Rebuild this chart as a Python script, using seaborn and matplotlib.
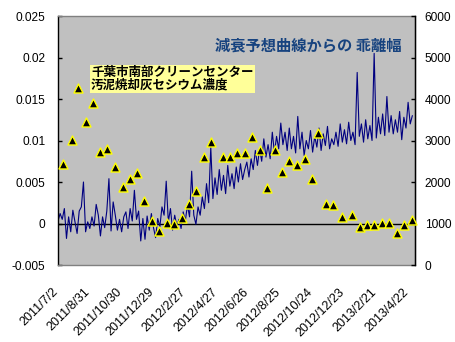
import numpy as np
import pandas as pd
import matplotlib
matplotlib.use("Agg")
import matplotlib.pyplot as plt
import matplotlib.ticker as mticker
import matplotlib.transforms as mtransforms
import seaborn as sns

# ---------------- data ----------------
line_start = "2011-07-02"
line_step = "4D"
# deviation from predicted decay curve (left axis), sampled every 4 days
deviation = [
    0.0003, 0.0012, 0.0005, 0.0018, -0.0018, 0.0008, -0.0010, 0.0016, 0.0002, -0.0012,
    0.0015, 0.0020, 0.0050, -0.0010, 0.0002, -0.0006, 0.0008, -0.0003, 0.0023, 0.0010,
    -0.0015, 0.0008, -0.0005, 0.0015, 0.0054, -0.0009, 0.0026, 0.0010, -0.0008, 0.0005,
    -0.0010, 0.0008, 0.0014, -0.0006, 0.0018, 0.0003, 0.0040, 0.0005, 0.0015, -0.0021,
    0.0006, -0.0019, 0.0009, -0.0008, 0.0012, -0.0005, -0.0017, 0.0006, -0.0004, 0.0020,
    0.0010, 0.0051, 0.0002, 0.0018, -0.0008, 0.0010, -0.0003, 0.0005, -0.0006, 0.0014,
    0.0003, 0.0022, 0.0008, 0.0063, 0.0010, -0.0001, 0.0020, 0.0010, 0.0032, 0.0018,
    0.0048, 0.0025, 0.0092, 0.0030, 0.0055, 0.0035, 0.0065, 0.0040, 0.0058, 0.0036,
    0.0070, 0.0045, 0.0060, 0.0042, 0.0068, 0.0050, 0.0072, 0.0053, 0.0065, 0.0074,
    0.0056, 0.0078, 0.0065, 0.0088, 0.0070, 0.0090, 0.0075, 0.0102, 0.0080, 0.0095,
    0.0078, 0.0110, 0.0085, 0.0105, 0.0090, 0.0121, 0.0095, 0.0110, 0.0088, 0.0115,
    0.0090, 0.0105, 0.0085, 0.0129, 0.0090, 0.0110, 0.0082, 0.0100, 0.0090, 0.0112,
    0.0086, 0.0105, 0.0092, 0.0115, 0.0088, 0.0108, 0.0094, 0.0117, 0.0090, 0.0102,
    0.0095, 0.0110, 0.0093, 0.0120, 0.0098, 0.0113, 0.0096, 0.0122, 0.0100, 0.0110,
    0.0095, 0.0182, 0.0105, 0.0120, 0.0098, 0.0125, 0.0102, 0.0118, 0.0100, 0.0205,
    0.0103, 0.0128, 0.0108, 0.0132, 0.0106, 0.0153, 0.0110, 0.0130, 0.0108, 0.0125,
    0.0110, 0.0135, 0.0101, 0.0128, 0.0115, 0.0146, 0.0120, 0.0130,
]

# caesium concentration in sludge incineration ash (right axis, Bq/kg)
cs_dates = [
    "2011-07-11", "2011-07-28", "2011-08-09", "2011-08-23", "2011-09-06", "2011-09-19",
    "2011-10-03", "2011-10-17", "2011-11-01", "2011-11-14", "2011-11-28", "2011-12-12",
    "2011-12-26", "2012-01-09", "2012-01-24", "2012-02-06", "2012-02-20", "2012-03-05",
    "2012-03-19", "2012-04-03", "2012-04-16", "2012-05-08", "2012-05-21", "2012-06-04",
    "2012-06-18", "2012-07-02", "2012-07-17", "2012-07-30", "2012-08-14", "2012-08-27",
    "2012-09-10", "2012-09-25", "2012-10-09", "2012-10-23", "2012-11-04", "2012-11-19",
    "2012-12-02", "2012-12-18", "2013-01-07", "2013-01-22", "2013-02-04", "2013-02-17",
    "2013-03-04", "2013-03-17", "2013-04-01", "2013-04-14", "2013-04-29",
]
cs_values = [
    2434, 3024, 4277, 3453, 3911, 2711, 2790, 2369, 1875, 2067, 2210, 1554,
    1067, 827, 1019, 988, 1125, 1463, 1790, 2595, 2971, 2595, 2595, 2692,
    2692, 3092, 2771, 1848, 2771, 2248, 2513, 2410, 2554, 2072, 3188, 1470,
    1446, 1164, 1205, 923, 964, 964, 1005, 1019, 778, 964, 1084,
]

tick_labels = [
    "2011/7/2", "2011/8/31", "2011/10/30", "2011/12/29", "2012/2/27", "2012/4/27",
    "2012/6/26", "2012/8/25", "2012/10/24", "2012/12/23", "2013/2/21", "2013/4/22",
]
left_ticks = [-0.005, 0, 0.005, 0.01, 0.015, 0.02, 0.025]
right_ticks = [0, 1000, 2000, 3000, 4000, 5000, 6000]

title_text = "減衰予想曲線からの 乖離幅"
box_text = "千葉市南部クリーンセンター\n汚泥焼却灰セシウム濃度"

# ---------------- styling ----------------
sns.set_style("white")
plt.rcParams["font.family"] = ["Liberation Sans", "Noto Sans CJK JP", "DejaVu Sans"]

line_df = pd.DataFrame({
    "date": pd.date_range(line_start, periods=len(deviation), freq=line_step),
    "deviation": deviation,
})
cs_df = pd.DataFrame({"date": pd.to_datetime(cs_dates), "cs": cs_values})
tick_dates = pd.to_datetime(tick_labels, format="%Y/%m/%d")

fig = plt.figure(figsize=(4.56, 3.42), dpi=100)
fig.patch.set_facecolor("white")
ax = fig.add_axes([58 / 456, 1 - 265 / 342, 357 / 456, 249 / 342])
ax.set_facecolor("#C0C0C0")

ax.axhline(0, color="black", lw=1.0, zorder=1.5)
sns.lineplot(data=line_df, x="date", y="deviation", ax=ax, color="#000080",
             linewidth=0.8, estimator=None, zorder=2)

ax.set_xlim(pd.Timestamp("2011-07-02"), pd.Timestamp("2013-05-05"))
ax.set_ylim(-0.005, 0.025)
ax.set_yticks(left_ticks)
ax.yaxis.set_major_formatter(mticker.FuncFormatter(lambda v, p: f"{v:g}"))
ax.set_xticks([])
ax.tick_params(axis="y", direction="in", length=3, width=1, pad=9,
               labelsize=8.6, colors="black", left=True)
ax.set_xlabel("")
ax.set_ylabel("")
for s in ["top", "bottom", "right"]:
    ax.spines[s].set_color("#808080")
    ax.spines[s].set_linewidth(1)
ax.spines["left"].set_color("black")
ax.spines["left"].set_linewidth(1)

# rotated date labels under the plot area
lab_off = mtransforms.ScaledTranslation(-6 / 100, -21 / 100, fig.dpi_scale_trans)
for d, lab in zip(tick_dates, tick_labels):
    ax.text(d, 0, lab, transform=ax.get_xaxis_transform() + lab_off,
            rotation=45, ha="right", va="top", rotation_mode="anchor",
            fontsize=9, color="black", clip_on=False)

ax2 = ax.twinx()
ax2.patch.set_visible(False)
sns.scatterplot(data=cs_df, x="date", y="cs", ax=ax2, marker="^", s=42,
                color="black", edgecolor="#FFFF00", linewidth=1.0,
                zorder=5, clip_on=False, legend=False)
ax2.set_ylim(0, 6000)
ax2.set_yticks(right_ticks)
ax2.tick_params(axis="y", direction="in", length=3, width=1, pad=7,
                labelsize=8.6, colors="black", right=True)
ax2.set_xlim(ax.get_xlim())
ax2.set_xticks([])
ax2.set_xlabel("")
ax2.set_ylabel("")
for s in ["top", "bottom", "left"]:
    ax2.spines[s].set_visible(False)
ax2.spines["right"].set_color("black")
ax2.spines["right"].set_linewidth(1)

ax2.text((215 - 58) / 357, (265 - 45) / 249, title_text, transform=ax2.transAxes,
         ha="left", va="center", fontsize=11, fontweight="bold",
         color="#17437F", family=["Noto Sans CJK JP", "DejaVu Sans"], zorder=10)
ax2.text((91 - 58) / 357, (265 - 66) / 249, box_text, transform=ax2.transAxes,
         ha="left", va="top", fontsize=9, fontweight="bold", color="black",
         linespacing=1.0, family=["Noto Sans CJK JP", "DejaVu Sans"], zorder=10,
         bbox=dict(boxstyle="square,pad=0.1", fc="#FFFF99", ec="none"))

fig.savefig("out.png", dpi=100)
